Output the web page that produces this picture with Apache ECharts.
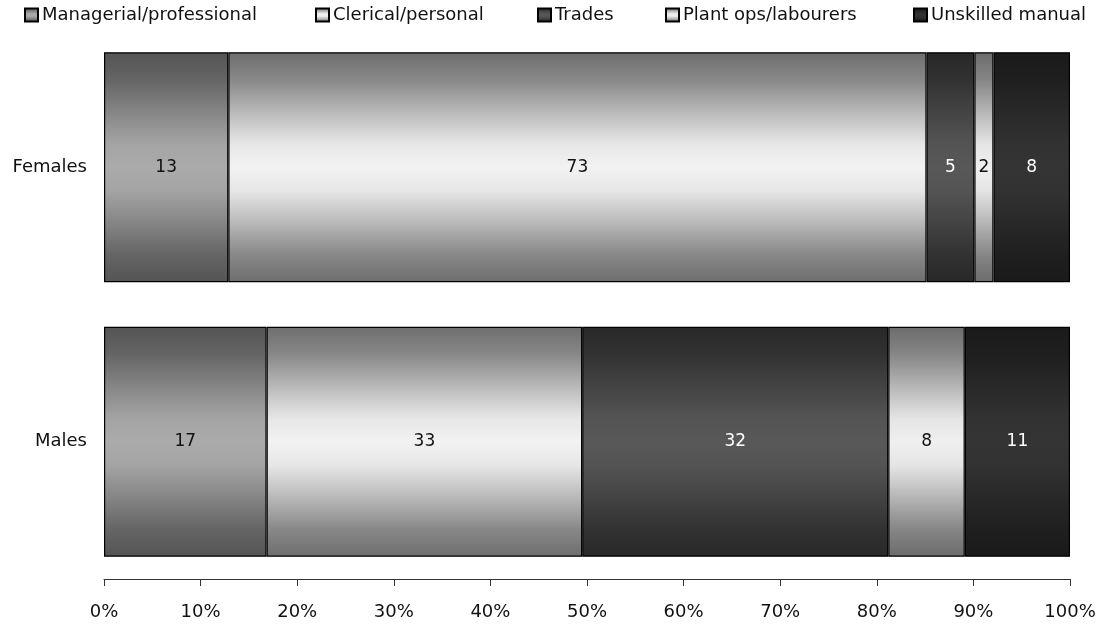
<!DOCTYPE html>
<html>
<head>
<meta charset="utf-8">
<script src="https://cdn.jsdelivr.net/npm/echarts@6/dist/echarts.min.js"></script>
<style>
  html, body { margin: 0; padding: 0; background: #ffffff; }
  #chart { width: 1109px; height: 626px; }
</style>
</head>
<body>
<div id="chart"></div>
<script>
// Occupation shares by sex (per cent, as labelled)
const categories = ['Females', 'Males'];
const occupations = ['Managerial/professional', 'Clerical/personal', 'Trades', 'Plant ops/labourers', 'Unskilled manual'];
const managerial = [13, 17];
const clerical = [73, 33];
const trades = [5, 32];
const plantOps = [2, 8];
const unskilled = [8, 11];
const tickLabels = ['0%', '10%', '20%', '30%', '40%', '50%', '60%', '70%', '80%', '90%', '100%'];

const valueSets = [managerial, clerical, trades, plantOps, unskilled];

// Fill style per occupation: edge shade, centre shade, label colour
const shades = [
  { edge: [84, 84, 84], mid: [171, 171, 171], text: '#111111' },
  { edge: [110, 110, 110], mid: [242, 242, 242], text: '#111111' },
  { edge: [40, 40, 40], mid: [88, 88, 88], text: '#ffffff' },
  { edge: [108, 108, 108], mid: [239, 239, 239], text: '#111111' },
  { edge: [26, 26, 26], mid: [52, 52, 52], text: '#ffffff' }
];
const legendLeft = [24, 315, 537, 665, 913];

const FONT = 'DejaVu Sans';

// Each row is drawn as a 100% stack: convert the labelled values to shares of the row total
const totals = categories.map((_, i) => valueSets.reduce((s, arr) => s + arr[i], 0));

function mix(a, b, t) {
  const c = a.map((v, i) => Math.round(v + (b[i] - v) * t));
  return 'rgb(' + c.join(',') + ')';
}

// Vertical "cylinder" shading: dark at top and bottom, light through the middle
function gradient(s) {
  const prof = [[0, 0], [0.12, 0.2], [0.28, 0.62], [0.4, 0.92], [0.5, 1], [0.6, 0.92], [0.72, 0.62], [0.88, 0.2], [1, 0]];
  return new echarts.graphic.LinearGradient(0, 0, 0, 1,
    prof.map(p => ({ offset: p[0], color: mix(s.edge, s.mid, p[1]) })));
}

const series = occupations.map((name, k) => ({
  name: name,
  type: 'bar',
  stack: 'share',
  barWidth: 230,
  data: valueSets[k].map((v, i) => ({ value: v / totals[i] * 100, raw: v })),
  itemStyle: { color: gradient(shades[k]), borderColor: '#000000', borderWidth: 1.2 },
  label: {
    show: true,
    position: 'inside',
    fontFamily: FONT,
    fontSize: 17,
    color: shades[k].text,
    formatter: p => String(p.data.raw)
  },
  emphasis: { disabled: true }
}));

const legends = occupations.map((name, k) => ({
  data: [name],
  left: legendLeft[k],
  top: 6,
  padding: 0,
  icon: 'rect',
  itemWidth: 13,
  itemHeight: 13,
  itemGap: 0,
  textStyle: { fontFamily: FONT, fontSize: 18, color: '#111111', padding: [0, 0, 0, -1] },
  selectedMode: false
}));

const chart = echarts.init(document.getElementById('chart'), null, { renderer: 'canvas' });
chart.setOption({
  animation: false,
  backgroundColor: '#ffffff',
  legend: legends,
  grid: { left: 104, right: 39, top: 30, bottom: 47 },
  xAxis: {
    type: 'value',
    min: 0,
    max: 100,
    interval: 10,
    axisLine: { show: true, lineStyle: { color: '#333333', width: 1 } },
    axisTick: { show: true, length: 7, lineStyle: { color: '#333333' } },
    splitLine: { show: false },
    axisLabel: {
      fontFamily: FONT,
      fontSize: 18,
      color: '#111111',
      margin: 24,
      formatter: (v) => tickLabels[Math.round(v / 10)]
    }
  },
  yAxis: {
    type: 'category',
    data: categories,
    inverse: true,
    axisLine: { show: false },
    axisTick: { show: false },
    axisLabel: { fontFamily: FONT, fontSize: 18, color: '#111111', margin: 17 }
  },
  series: series
});
</script>
</body>
</html>
